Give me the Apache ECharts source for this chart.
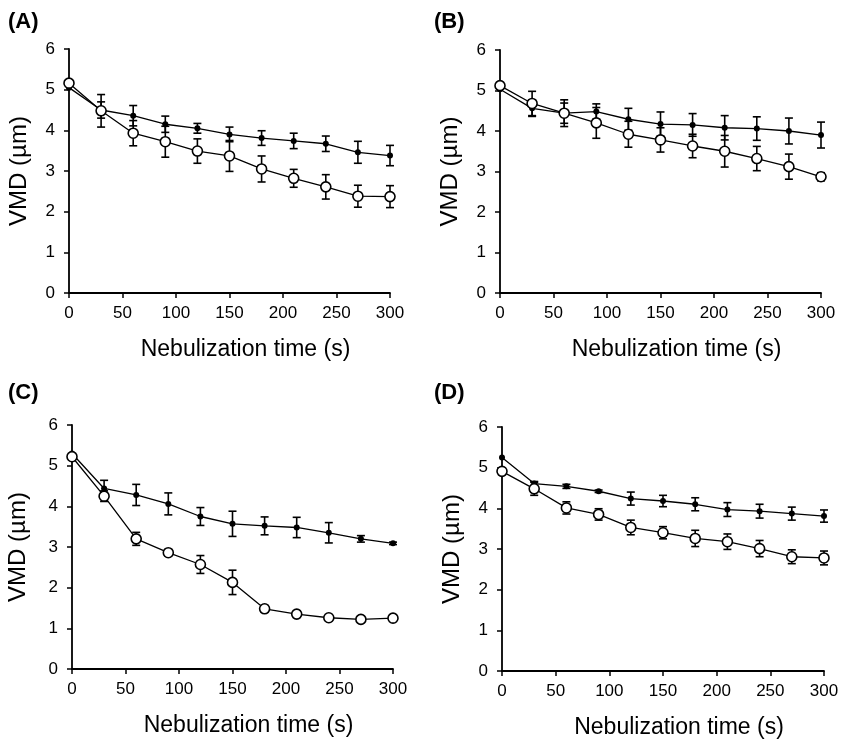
<!DOCTYPE html>
<html>
<head>
<meta charset="utf-8">
<script src="https://cdn.jsdelivr.net/npm/echarts@6/dist/echarts.min.js"></script>
<style>
html,body{margin:0;padding:0;background:#fff;}
#chart{width:843px;height:740px;}
</style>
</head>
<body>
<div id="chart"></div>
<script>
// ---- Data ----
const times = [0, 30, 60, 90, 120, 150, 180, 210, 240, 270, 300];
const xTicks = [0, 50, 100, 150, 200, 250, 300];
const yTicks = [0, 1, 2, 3, 4, 5, 6];
const panelLabels = ['(A)', '(B)', '(C)', '(D)'];
const xTitle = 'Nebulization time (s)';
const yTitle = 'VMD (µm)';

// Panel A
const aFilled    = [5.05, 4.50, 4.36, 4.15, 4.05, 3.90, 3.81, 3.74, 3.67, 3.46, 3.38];
const aFilledErr = [0.00, 0.20, 0.25, 0.20, 0.12, 0.18, 0.18, 0.19, 0.19, 0.27, 0.25];
const aOpen      = [5.16, 4.48, 3.93, 3.72, 3.49, 3.37, 3.05, 2.82, 2.61, 2.38, 2.37];
const aOpenErr   = [0.00, 0.40, 0.31, 0.38, 0.30, 0.38, 0.32, 0.22, 0.30, 0.27, 0.27];
// Panel B
const bFilled    = [5.03, 4.56, 4.44, 4.48, 4.29, 4.17, 4.15, 4.08, 4.06, 4.00, 3.90];
const bFilledErr = [0.00, 0.20, 0.25, 0.19, 0.27, 0.30, 0.28, 0.30, 0.29, 0.32, 0.32];
const bOpen      = [5.12, 4.68, 4.44, 4.20, 3.92, 3.78, 3.63, 3.50, 3.32, 3.12, 2.87];
const bOpenErr   = [0.00, 0.30, 0.33, 0.38, 0.32, 0.30, 0.29, 0.39, 0.30, 0.31, 0.10];
// Panel C
const cFilled    = [5.30, 4.44, 4.28, 4.06, 3.75, 3.57, 3.52, 3.48, 3.35, 3.20, 3.09];
const cFilledErr = [0.00, 0.20, 0.26, 0.27, 0.22, 0.31, 0.22, 0.25, 0.25, 0.08, 0.03];
const cOpen      = [5.22, 4.25, 3.20, 2.86, 2.57, 2.13, 1.48, 1.35, 1.26, 1.22, 1.25];
const cOpenErr   = [0.00, 0.13, 0.16, 0.07, 0.22, 0.30, 0.08, 0.03, 0.02, 0.02, 0.02];
// Panel D
const dFilled    = [5.25, 4.61, 4.54, 4.42, 4.24, 4.18, 4.10, 3.97, 3.93, 3.87, 3.81];
const dFilledErr = [0.00, 0.05, 0.05, 0.03, 0.16, 0.14, 0.16, 0.17, 0.17, 0.16, 0.15];
const dOpen      = [4.91, 4.48, 4.01, 3.85, 3.53, 3.40, 3.26, 3.18, 3.01, 2.81, 2.78];
const dOpenErr   = [0.00, 0.16, 0.15, 0.14, 0.18, 0.15, 0.20, 0.19, 0.20, 0.17, 0.17];

const panels = [
  {filled: aFilled, filledErr: aFilledErr, open: aOpen, openErr: aOpenErr},
  {filled: bFilled, filledErr: bFilledErr, open: bOpen, openErr: bOpenErr},
  {filled: cFilled, filledErr: cFilledErr, open: cOpen, openErr: cOpenErr},
  {filled: dFilled, filledErr: dFilledErr, open: dOpen, openErr: dOpenErr}
];

// ---- Layout ----
const FONT = "'Liberation Sans', Arial, Helvetica, sans-serif";
const grids = [
  {left: 69,  top: 49,  width: 321, height: 244},
  {left: 500, top: 50,  width: 321, height: 243},
  {left: 72,  top: 425, width: 321, height: 244},
  {left: 502, top: 427, width: 322, height: 244}
];
const labelPos = [[3, 6], [429, 6], [3, 377], [429, 377]];
const yNameGap = [38, 38, 42, 38];

function errRender(params, api) {
  const x = api.value(0), lo = api.value(1), hi = api.value(2);
  if (hi - lo < 0.001) return null;
  const t = api.coord([x, hi]);
  const b = api.coord([x, lo]);
  const w = 4;
  const st = {stroke: '#000', lineWidth: 1.6};
  return {
    type: 'group',
    children: [
      {type: 'line', shape: {x1: t[0], y1: t[1], x2: b[0], y2: b[1]}, style: st},
      {type: 'line', shape: {x1: t[0] - w, y1: t[1], x2: t[0] + w, y2: t[1]}, style: st},
      {type: 'line', shape: {x1: b[0] - w, y1: b[1], x2: b[0] + w, y2: b[1]}, style: st}
    ]
  };
}

const option = {
  backgroundColor: '#fff',
  animation: false,
  title: panelLabels.map((t, i) => ({
    text: t, left: labelPos[i][0], top: labelPos[i][1],
    textStyle: {fontFamily: FONT, fontSize: 22, fontWeight: 'bold', color: '#000'}
  })),
  grid: grids.map(g => Object.assign({containLabel: false}, g)),
  xAxis: grids.map((g, i) => ({
    gridIndex: i, type: 'value', min: xTicks[0], max: xTicks[xTicks.length - 1],
    interval: xTicks[1] - xTicks[0],
    name: xTitle, nameLocation: 'middle', nameGap: 45,
    nameTextStyle: {fontFamily: FONT, fontSize: 23, color: '#000', padding: [0, 0, 0, 32]},
    axisLine: {onZero: false, lineStyle: {color: '#000', width: 1.8}},
    axisTick: {show: true, length: 5, inside: false, lineStyle: {color: '#000', width: 1.5}},
    axisLabel: {fontFamily: FONT, fontSize: 17, color: '#000', margin: 12},
    splitLine: {show: false}
  })),
  yAxis: grids.map((g, i) => ({
    gridIndex: i, type: 'value', min: yTicks[0], max: yTicks[yTicks.length - 1],
    interval: yTicks[1] - yTicks[0],
    name: yTitle, nameLocation: 'middle', nameGap: yNameGap[i], nameRotate: 90,
    nameTextStyle: {fontFamily: FONT, fontSize: 24, color: '#000'},
    axisLine: {show: true, onZero: false, lineStyle: {color: '#000', width: 1.8}},
    axisTick: {show: true, length: 5, lineStyle: {color: '#000', width: 1.5}},
    axisLabel: {fontFamily: FONT, fontSize: 17, color: '#000', margin: 14},
    splitLine: {show: false}
  })),
  series: []
};

panels.forEach((p, i) => {
  option.series.push({
    type: 'custom', xAxisIndex: i, yAxisIndex: i, z: 1,
    renderItem: errRender, encode: {x: 0, y: [1, 2]},
    data: times.map((t, k) => [t, p.filled[k] - p.filledErr[k], p.filled[k] + p.filledErr[k]])
  });
  option.series.push({
    type: 'custom', xAxisIndex: i, yAxisIndex: i, z: 1,
    renderItem: errRender, encode: {x: 0, y: [1, 2]},
    data: times.map((t, k) => [t, p.open[k] - p.openErr[k], p.open[k] + p.openErr[k]])
  });
  option.series.push({
    type: 'line', xAxisIndex: i, yAxisIndex: i, z: 3,
    data: times.map((t, k) => [t, p.filled[k]]),
    symbol: 'circle', symbolSize: 6,
    lineStyle: {color: '#000', width: 1.3},
    itemStyle: {color: '#000', borderColor: '#000', borderWidth: 0}
  });
  option.series.push({
    type: 'line', xAxisIndex: i, yAxisIndex: i, z: 4,
    data: times.map((t, k) => [t, p.open[k]]),
    symbol: 'circle', symbolSize: 10,
    lineStyle: {color: '#000', width: 1.3},
    itemStyle: {color: '#fff', borderColor: '#000', borderWidth: 1.6}
  });
});

const chart = echarts.init(document.getElementById('chart'), null, {renderer: 'canvas'});
chart.setOption(option);
</script>
</body>
</html>
